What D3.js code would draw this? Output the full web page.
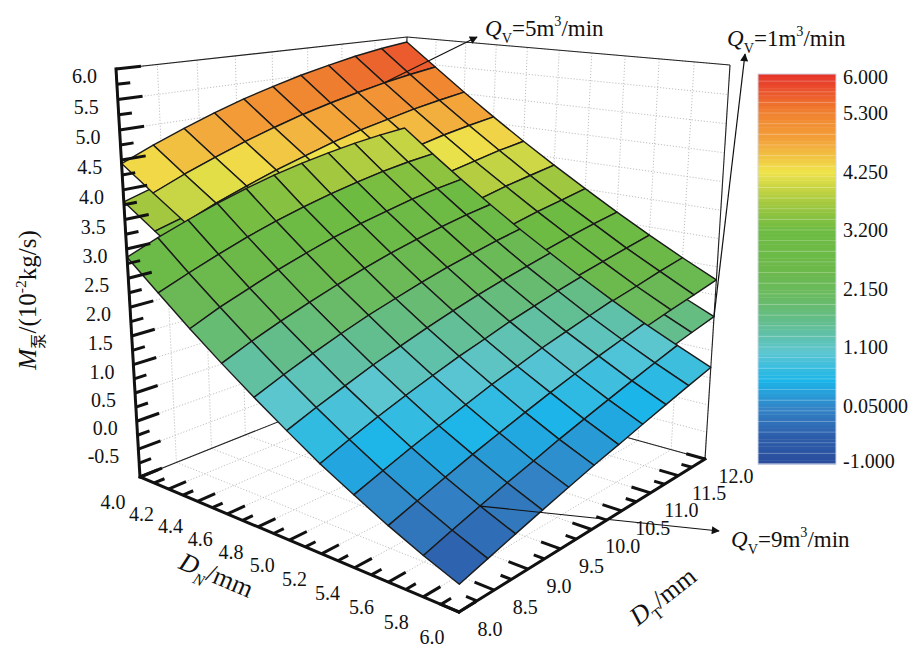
<!DOCTYPE html>
<html lang="zh">
<head>
<meta charset="UTF-8">
<title>M - DN - DT surfaces</title>
<style>
  body { margin: 0; background: #fff; }
</style>
</head>
<body>
<div id="graph"></div>
<script src="https://cdn.jsdelivr.net/npm/d3@7/dist/d3.min.js"></script>
<script>
    // 1. data: node values, rows = DN, columns = DT
    var dnValues = [4.0, 4.2, 4.4, 4.6, 4.8, 5.0, 5.2, 5.4, 5.6, 5.8, 6.0];
    var dtValues = [8.0, 8.4, 8.8, 9.2, 9.6, 10.0, 10.4, 10.8, 11.2, 11.6, 12.0];

    // Qv = 1 m3/min
    var qv1 = [
        [3.80, 3.95, 4.08, 4.21, 4.32, 4.43, 4.52, 4.61, 4.68, 4.75, 4.80],
        [3.41, 3.55, 3.68, 3.80, 3.92, 4.03, 4.12, 4.21, 4.29, 4.36, 4.42],
        [3.03, 3.17, 3.30, 3.42, 3.53, 3.64, 3.74, 3.83, 3.91, 3.98, 4.05],
        [2.66, 2.80, 2.93, 3.05, 3.16, 3.27, 3.37, 3.46, 3.55, 3.62, 3.70],
        [2.31, 2.44, 2.57, 2.69, 2.80, 2.91, 3.01, 3.11, 3.20, 3.28, 3.36],
        [1.98, 2.10, 2.23, 2.34, 2.46, 2.57, 2.67, 2.77, 2.86, 2.95, 3.03],
        [1.65, 1.78, 1.90, 2.01, 2.13, 2.24, 2.34, 2.44, 2.54, 2.63, 2.72],
        [1.34, 1.46, 1.58, 1.70, 1.81, 1.92, 2.03, 2.13, 2.23, 2.33, 2.42],
        [1.05, 1.17, 1.28, 1.40, 1.51, 1.62, 1.72, 1.83, 1.93, 2.04, 2.14],
        [0.77, 0.88, 0.99, 1.11, 1.22, 1.33, 1.44, 1.55, 1.65, 1.76, 1.87],
        [0.50, 0.61, 0.72, 0.83, 0.94, 1.06, 1.17, 1.28, 1.39, 1.50, 1.61]
    ];
    // Qv = 5 m3/min
    var qv5 = [
        [4.44, 4.66, 4.86, 5.05, 5.22, 5.37, 5.51, 5.63, 5.74, 5.83, 5.90],
        [4.04, 4.25, 4.44, 4.62, 4.78, 4.93, 5.06, 5.18, 5.29, 5.38, 5.46],
        [3.66, 3.86, 4.04, 4.21, 4.36, 4.51, 4.64, 4.75, 4.86, 4.95, 5.03],
        [3.30, 3.48, 3.65, 3.81, 3.96, 4.10, 4.23, 4.34, 4.45, 4.54, 4.62],
        [2.95, 3.12, 3.28, 3.44, 3.58, 3.71, 3.84, 3.95, 4.05, 4.15, 4.23],
        [2.62, 2.78, 2.93, 3.08, 3.21, 3.34, 3.46, 3.57, 3.68, 3.77, 3.86],
        [2.30, 2.45, 2.60, 2.73, 2.86, 2.99, 3.10, 3.21, 3.32, 3.41, 3.51],
        [2.00, 2.14, 2.28, 2.40, 2.53, 2.65, 2.76, 2.87, 2.98, 3.08, 3.17],
        [1.72, 1.85, 1.97, 2.09, 2.21, 2.33, 2.44, 2.55, 2.65, 2.75, 2.85],
        [1.45, 1.57, 1.68, 1.80, 1.91, 2.02, 2.13, 2.24, 2.34, 2.45, 2.55],
        [1.20, 1.31, 1.41, 1.52, 1.63, 1.74, 1.84, 1.95, 2.06, 2.16, 2.27]
    ];
    // Qv = 9 m3/min
    var qv9 = [
        [2.86, 3.07, 3.26, 3.44, 3.60, 3.74, 3.86, 3.96, 4.05, 4.12, 4.17],
        [2.38, 2.58, 2.77, 2.95, 3.11, 3.25, 3.38, 3.49, 3.59, 3.67, 3.73],
        [1.92, 2.13, 2.31, 2.49, 2.65, 2.80, 2.93, 3.04, 3.15, 3.24, 3.31],
        [1.50, 1.70, 1.88, 2.05, 2.21, 2.36, 2.50, 2.62, 2.73, 2.83, 2.91],
        [1.11, 1.30, 1.48, 1.65, 1.81, 1.95, 2.09, 2.22, 2.33, 2.44, 2.53],
        [0.75, 0.93, 1.10, 1.27, 1.42, 1.57, 1.71, 1.84, 1.96, 2.07, 2.18],
        [0.41, 0.59, 0.76, 0.92, 1.07, 1.22, 1.35, 1.49, 1.61, 1.73, 1.84],
        [0.12, 0.28, 0.44, 0.59, 0.74, 0.89, 1.02, 1.16, 1.28, 1.40, 1.52],
        [-0.15, 0.00, 0.15, 0.30, 0.44, 0.58, 0.72, 0.85, 0.98, 1.10, 1.22],
        [-0.39, -0.25, -0.11, 0.03, 0.16, 0.30, 0.43, 0.56, 0.69, 0.82, 0.95],
        [-0.60, -0.47, -0.34, -0.21, -0.08, 0.05, 0.17, 0.30, 0.43, 0.56, 0.69]
    ];

    var dnTickLabels = ["4.0", "4.2", "4.4", "4.6", "4.8", "5.0", "5.2", "5.4", "5.6", "5.8", "6.0"];
    var dtTickLabels = ["8.0", "8.5", "9.0", "9.5", "10.0", "10.5", "11.0", "11.5", "12.0"];
    var zTickLabels = ["-0.5", "0.0", "0.5", "1.0", "1.5", "2.0", "2.5", "3.0", "3.5", "4.0", "4.5", "5.0", "5.5", "6.0"];
    var barLevels = [6, 5.3, 4.25, 3.2, 2.15, 1.1, 0.05, -1];
    var barLabels = ["6.000", "5.300", "4.250", "3.200", "2.150", "1.100", "0.05000", "-1.000"];

    var width = 922, height = 653;
    var serif = "'Liberation Serif', 'Times New Roman', Times, serif";
    var svg = d3.select("#graph").append("svg")
        .attr("width", width).attr("height", height)
        .attr("font-family", serif)
        .style("font-family", serif);

    // 2. scales (DN, DT, M -> unit cube)
    var uScale = d3.scaleLinear().domain([4, 6]).range([0, 1]);
    var vScale = d3.scaleLinear().domain([8, 12]).range([0, 1]);
    var wScale = d3.scaleLinear().domain([-1, 6]).range([0, 1]);

    var color = d3.scaleLinear()
        .domain([-1, -0.5, 0, 0.5, 1.0, 1.5, 2.0, 2.5, 3.2, 3.7, 4.25, 4.8, 5.3, 6.0])
        .range(["#2a4d9c", "#2d5eab", "#3384c6", "#1cb5e9", "#5cc6d2", "#62be93", "#6aba62",
                "#6cb94a", "#6dbb42", "#a6c93f", "#efe34a", "#f3a33a", "#f0822f", "#e5322a"])
        .clamp(true);

    // box corners on screen (u, v, w) and perspective weights
    var corner = {
        "000": [140, 477], "100": [459, 612], "110": [705, 459], "010": [398, 374],
        "001": [116, 69],  "101": [464, 100], "111": [730, 65],  "011": [407, 37]
    };
    function depth(u, v, w) { return 1 - 0.12 * u + 0.15 * v - 0.05 * w; }
    function proj(u, v, w) {
        var sx = 0, sy = 0, sw = 0;
        for (var a = 0; a < 2; a++) for (var b = 0; b < 2; b++) for (var c = 0; c < 2; c++) {
            var k = (a ? u : 1 - u) * (b ? v : 1 - v) * (c ? w : 1 - w) * depth(a, b, c);
            var p = corner["" + a + b + c];
            sx += k * p[0]; sy += k * p[1]; sw += k;
        }
        return [sx / sw, sy / sw];
    }
    function P(dn, dt, z) { return proj(uScale(dn), vScale(dt), wScale(z)); }

    var line = d3.line();
    function seg(g, a, b) {
        return g.append("path").attr("d", line([a, b]));
    }

    // 3. walls and floor grid
    var grid = svg.append("g").attr("fill", "none").attr("stroke", "#b9b9b9")
        .attr("stroke-width", 0.9).attr("stroke-dasharray", "1.2,1.8");
    var dtMajor = d3.range(8, 12.001, 0.5), dnMajor = d3.range(4, 6.001, 0.2), zMajor = d3.range(-1, 6.001, 0.5);
    dtMajor.forEach(function (t) {
        seg(grid, P(4, t, -1), P(4, t, 6));       // DN = 4 wall
        seg(grid, P(4, t, -1), P(6, t, -1));      // floor
    });
    dnMajor.forEach(function (n) {
        seg(grid, P(n, 12, -1), P(n, 12, 6));     // DT = 12 wall
        seg(grid, P(n, 8, -1), P(n, 12, -1));     // floor
    });
    zMajor.forEach(function (z) {
        seg(grid, P(4, 8, z), P(4, 12, z));
        seg(grid, P(4, 12, z), P(6, 12, z));
    });

    var edges = svg.append("g").attr("fill", "none").attr("stroke", "#222").attr("stroke-width", 1.1);
    seg(edges, P(4, 8, 6), P(4, 12, 6));
    seg(edges, P(4, 12, 6), P(6, 12, 6));
    seg(edges, P(4, 12, -1), P(4, 12, 6));
    seg(edges, P(6, 12, -1), P(6, 12, 6));
    seg(edges, P(4, 8, -1), P(4, 12, -1));
    seg(edges, P(4, 12, -1), P(6, 12, -1));

    // 4. surfaces, each one painted back to front, in plot order
    function cellsOf(values) {
        var cells = [];
        for (var i = 0; i < dnValues.length - 1; i++) {
            for (var j = 0; j < dtValues.length - 1; j++) {
                var idx = [[i, j], [i + 1, j], [i + 1, j + 1], [i, j + 1]];
                var zs = idx.map(function (d) { return values[d[0]][d[1]]; });
                var zm = d3.mean(zs);
                cells.push({
                    pts: idx.map(function (d, k) { return P(dnValues[d[0]], dtValues[d[1]], zs[k]); }),
                    z: zm,
                    depth: depth(uScale((dnValues[i] + dnValues[i + 1]) / 2),
                                 vScale((dtValues[j] + dtValues[j + 1]) / 2), wScale(zm))
                });
            }
        }
        return cells.sort(function (a, b) { return b.depth - a.depth; });
    }

    [qv1, qv5, qv9].forEach(function (values) {
        svg.append("g")
            .selectAll("path")
            .data(cellsOf(values))
            .join("path")
            .attr("d", function (d) { return line(d.pts) + "Z"; })
            .attr("fill", function (d) { return color(d.z); })
            .attr("stroke", "#1b1b1b")
            .attr("stroke-width", 1.4)
            .attr("stroke-linejoin", "round");
    });

    // 5. axes
    var axes = svg.append("g").attr("fill", "none").attr("stroke", "#111")
        .attr("stroke-width", 3).attr("stroke-linecap", "square");
    seg(axes, P(4, 8, -1), P(4, 8, 6));
    seg(axes, P(4, 8, -1), P(6, 8, -1));
    seg(axes, P(6, 8, -1), P(6, 12, -1));

    function near(x, step) { return Math.abs(x / step - Math.round(x / step)) < 1e-6; }
    d3.range(-1, 6.001, 0.25).forEach(function (z) {
        var w = wScale(z), len = near(z + 1, 0.5) ? 0.075 : 0.04;
        seg(axes, proj(0, 0, w), proj(0, len, w)).attr("stroke-linecap", "butt");
    });
    d3.range(4, 6.001, 0.1).forEach(function (n) {
        var u = uScale(n), len = near(n - 4, 0.2) ? 0.06 : 0.035;
        seg(axes, proj(u, 0, 0), proj(u, len, 0)).attr("stroke-linecap", "butt");
    });
    d3.range(8, 12.001, 0.25).forEach(function (t) {
        var v = vScale(t), len = near(t - 8, 0.5) ? 0.055 : 0.03;
        seg(axes, proj(1, v, 0), proj(1 - len, v, 0)).attr("stroke-linecap", "butt");
    });

    var labels = svg.append("g").attr("font-size", 20).attr("fill", "#111");
    zTickLabels.forEach(function (s) {
        var p = P(4, 8, +s);
        labels.append("text").attr("x", p[0] - 19).attr("y", p[1] + 7)
            .attr("dy", "0.35em").attr("text-anchor", "end").text(s);
    });
    dnTickLabels.forEach(function (s) {
        var p = P(+s, 8, -1);
        labels.append("text").attr("x", p[0] - 27).attr("y", p[1] + 25)
            .attr("dy", "0.35em").attr("text-anchor", "middle").text(s);
    });
    dtTickLabels.forEach(function (s) {
        var p = P(6, +s, -1);
        labels.append("text").attr("x", p[0] + 31).attr("y", p[1] + 17)
            .attr("dy", "0.35em").attr("text-anchor", "middle").text(s);
    });

    // rich text helper: sub / sup / italic parts
    function richText(g, parts, size) {
        var t = g.append("text").attr("font-size", size).attr("fill", "#111");
        var shift = 0;
        parts.forEach(function (p) {
            var target = p.sub ? size * 0.3 : (p.sup ? -size * 0.42 : 0);
            var s = t.append("tspan").text(p.t).attr("dy", target - shift);
            shift = target;
            if (p.sub || p.sup) s.attr("font-size", size * 0.62);
            if (p.it) s.attr("font-style", "italic");
            if (p.font) s.attr("font-family", p.font);
        });
        return t;
    }

    richText(svg.append("g").attr("transform", "translate(36,300) rotate(-90)"), [
        { t: "M", it: true }, { t: "泵", sub: true, font: "'Noto Sans CJK SC'" },
        { t: "/(10" }, { t: "-2", sup: true }, { t: "kg/s)" }
    ], 25).attr("text-anchor", "middle");

    richText(svg.append("g").attr("transform", "translate(213,583) rotate(23)"), [
        { t: "D", it: true }, { t: "N", sub: true, it: true }, { t: "/mm" }
    ], 26).attr("text-anchor", "middle");

    richText(svg.append("g").attr("transform", "translate(668,603) rotate(-38)"), [
        { t: "D", it: true }, { t: "T", sub: true }, { t: "/mm" }
    ], 26).attr("text-anchor", "middle");

    // 6. flow-rate annotations
    var defs = svg.append("defs");
    defs.append("marker").attr("id", "head").attr("viewBox", "0 0 10 10")
        .attr("refX", 9).attr("refY", 5).attr("markerWidth", 13).attr("markerHeight", 8)
        .attr("markerUnits", "userSpaceOnUse").attr("orient", "auto")
        .append("path").attr("d", "M0,0L10,5L0,10Z").attr("fill", "#111");

    var notes = [
        { q: "5", values: qv5, dn: 4.2, dt: 11.2, end: [477, 37], text: [485, 36] },
        { q: "1", values: qv1, dn: 6.0, dt: 12.0, end: [745, 54], text: [727, 46] },
        { q: "9", values: qv9, dn: 5.8, dt: 8.8, end: [719, 531], text: [731, 547] }
    ];
    notes.forEach(function (n) {
        var z = n.values[dnValues.indexOf(n.dn)][dtValues.indexOf(n.dt)];
        svg.append("path").attr("d", line([P(n.dn, n.dt, z), n.end]))
            .attr("stroke", "#111").attr("stroke-width", 1.2).attr("fill", "none")
            .attr("marker-end", "url(#head)");
        richText(svg.append("g").attr("transform", "translate(" + n.text[0] + "," + n.text[1] + ")"), [
            { t: "Q", it: true }, { t: "V", sub: true }, { t: "=" + n.q + "m" }, { t: "3", sup: true }, { t: "/min" }
        ], 23);
    });

    // 7. colour bar
    var barY = d3.scaleLinear().domain([-1, 6]).range([464, 74]);
    var bar = svg.append("g");
    var bandStep = 7 / 110;
    bar.selectAll("rect")
        .data(d3.range(-1, 6 - 1e-9, bandStep))
        .join("rect")
        .attr("x", 758).attr("width", 78)
        .attr("y", function (d) { return barY(d + bandStep); })
        .attr("height", function (d) { return barY(d) - barY(d + bandStep) + 0.4; })
        .attr("fill", function (d) { return color(d + bandStep / 2); });
    bar.selectAll("line")
        .data(d3.range(-1, 6, bandStep * 3))
        .join("line")
        .attr("x1", 758).attr("x2", 836)
        .attr("y1", function (d) { return barY(d); }).attr("y2", function (d) { return barY(d); })
        .attr("stroke", "#fff").attr("stroke-opacity", 0.3).attr("stroke-width", 0.8);
    bar.append("rect").attr("x", 758).attr("y", 74).attr("width", 78).attr("height", 390)
        .attr("fill", "none").attr("stroke", "#cfd6e6").attr("stroke-width", 1);
    barLevels.forEach(function (v, k) {
        var y = Math.min(Math.max(barY(v), 77), 461);
        bar.append("text").attr("x", 843).attr("y", y).attr("dy", "0.35em")
            .attr("font-size", 20).attr("fill", "#111").text(barLabels[k]);
    });
</script>
</body>
</html>
